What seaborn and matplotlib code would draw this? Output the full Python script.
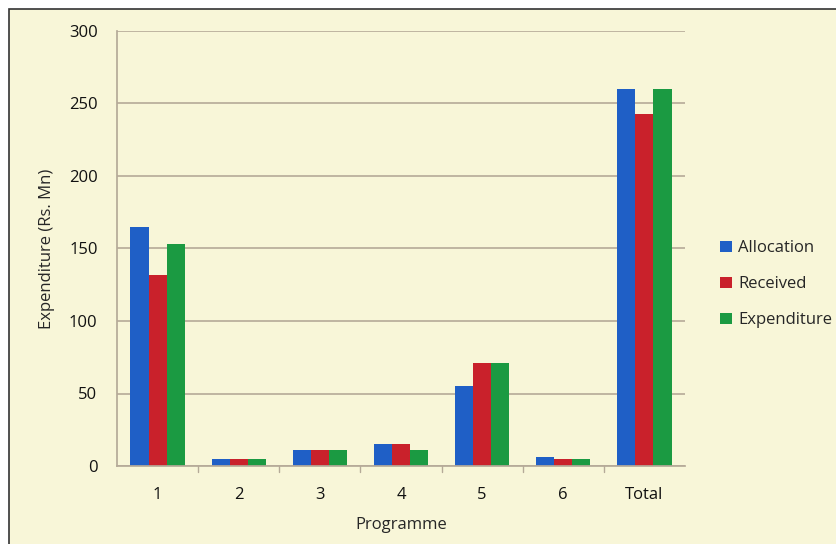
import matplotlib
matplotlib.use("Agg")
import matplotlib.pyplot as plt
import seaborn as sns
import pandas as pd
from matplotlib.patches import Rectangle

programmes = ["1", "2", "3", "4", "5", "6", "Total"]
allocation = [165, 4.5, 11, 15, 55, 6, 260]
received = [132, 4.5, 11, 15, 71, 5, 243]
expenditure = [153, 4.5, 11, 11, 71, 5, 260]
series = ["Allocation", "Received", "Expenditure"]
colors = ["#1f5fc6", "#c9212b", "#1b9a42"]

df = pd.DataFrame({
    "Programme": programmes * 3,
    "Value": allocation + received + expenditure,
    "Series": [s for s in series for _ in programmes],
})

sns.set_theme(style="white")
plt.rcParams["font.family"] = ["Open Sans", "DejaVu Sans"]

fig = plt.figure(figsize=(8.36, 5.44), dpi=100)
fig.patch.set_facecolor("white")
bg = "#f8f6d8"
fig.patches.append(Rectangle((9/836, -0.01), 1.0, 1 - 9/544 + 0.01, transform=fig.transFigure,
                             facecolor=bg, edgecolor="#333333", linewidth=1.2, zorder=-10))

ax = fig.add_axes([117/836, 1 - 466/544, (685 - 117)/836, (466 - 31)/544])
ax.set_facecolor("none")
sns.barplot(data=df, x="Programme", y="Value", hue="Series", palette=colors,
            width=0.67, ax=ax, saturation=1, edgecolor="none", linewidth=0)

ax.set_ylim(0, 300)
ax.set_yticks(range(0, 301, 50))
ax.yaxis.grid(True, color="#b5aa98", linewidth=1.2)
ax.set_axisbelow(True)
for s in ["top", "right"]:
    ax.spines[s].set_visible(False)
ax.spines["left"].set_color("#b5aa98")
ax.spines["bottom"].set_color("#b5aa98")
ax.set_xlim(-0.5, 6.5)
ax.tick_params(axis="x", length=0, labelsize=12, pad=15, colors="#111111")
ax.tick_params(axis="y", length=0, labelsize=12, pad=14, colors="#111111")
for x in [0.5, 1.5, 2.5, 3.5, 4.5, 5.5]:
    ax.plot([x, x], [0, -4], color="#b5aa98", lw=1, clip_on=False)
ax.set_xlabel("Programme", fontsize=12, labelpad=10)
ax.set_ylabel("Expenditure (Rs. Mn)", fontsize=12, labelpad=10)

leg = ax.legend(loc="center left", bbox_to_anchor=(1.035, 0.418), frameon=False,
                fontsize=12, handlelength=0.7, handleheight=0.7, handletextpad=0.4,
                labelspacing=1.2)

fig.savefig("out.png", dpi=100)
